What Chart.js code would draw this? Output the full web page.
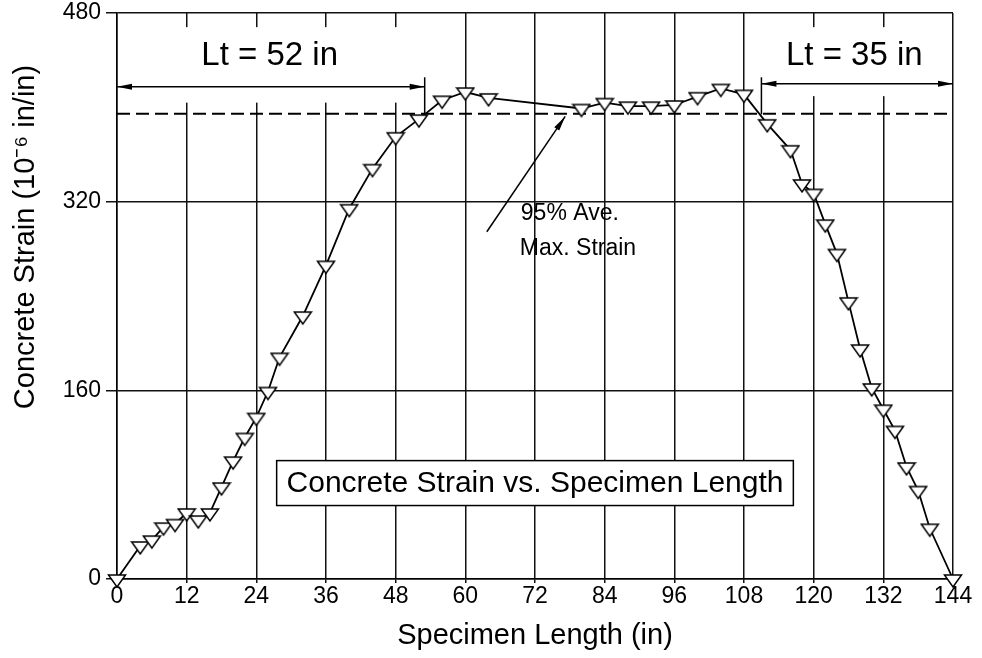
<!DOCTYPE html>
<html>
<head>
<meta charset="utf-8">
<script src="https://cdn.jsdelivr.net/npm/chart.js@4"></script>
<style>
  html, body { margin: 0; padding: 0; background: #fff; }
</style>
</head>
<body>
<canvas id="grafico1" width="982" height="658"></canvas>
<script>
// posicao ao longo do corpo de prova (in) e deformacao (10^-6 in/in)
var posicoes = [0, 4, 6, 8, 10, 12, 14, 16, 18, 20, 22, 24, 26, 28, 32, 36, 40, 44, 48, 52,
  56, 60, 64, 80, 84, 88, 92, 96, 100, 104, 108, 112, 116, 118, 120, 122, 124, 126, 128, 130,
  132, 134, 136, 138, 140, 144];
var deformacoes = [0, 28, 33, 44, 47, 56, 50, 56, 78, 100, 120, 137, 159, 188, 223, 266, 314, 348, 375, 390,
  406, 413, 408, 399, 404, 401, 401, 402, 409, 416, 411, 386, 364, 335, 327, 301, 276, 235, 195, 162,
  144, 126, 95, 75, 43, 0];
var ticksX = [0, 12, 24, 36, 48, 60, 72, 84, 96, 108, 120, 132, 144];
var ticksY = [0, 160, 320, 480];

// linha de 95% da deformacao maxima media
var limite95 = 394.5;
var ltEsquerda = { de: 0, ate: 53, nivel: 417.5, texto: "Lt = 52 in", textoX: 26.3, textoY: 444 };
var ltDireita = { de: 111, ate: 144, nivel: 420, texto: "Lt = 35 in", textoX: 127, textoY: 444 };

var fonte = "'Liberation Sans', Arial, Helvetica, sans-serif";
Chart.defaults.font.family = fonte;
Chart.defaults.color = "#000";

// triangulo invertido vazado
var marcador = document.createElement("canvas");
marcador.width = 20;
marcador.height = 20;
var mctx = marcador.getContext("2d");
mctx.beginPath();
mctx.moveTo(1.5, 6);
mctx.lineTo(18.5, 6);
mctx.lineTo(10, 18);
mctx.closePath();
mctx.fillStyle = "#fff";
mctx.fill();
mctx.lineWidth = 1.5;
mctx.strokeStyle = "#000";
mctx.stroke();

function seta(ctx, x1, y1, x2, y2) {
  var ang = Math.atan2(y2 - y1, x2 - x1);
  ctx.save();
  ctx.translate(x2, y2);
  ctx.rotate(ang);
  ctx.beginPath();
  ctx.moveTo(0, 0);
  ctx.lineTo(-15, -3);
  ctx.lineTo(-15, 3);
  ctx.closePath();
  ctx.fill();
  ctx.restore();
}

var anotacoes = {
  id: "anotacoes",
  beforeDatasetsDraw: function (chart) {
    var ctx = chart.ctx;
    var sx = chart.scales.x;
    var sy = chart.scales.y;
    var area = chart.chartArea;
    ctx.save();

    // fundo branco atras dos textos Lt
    ctx.fillStyle = "#fff";
    var topo = sy.getPixelForValue(468);
    ctx.fillRect(area.left + 1.5, topo, sx.getPixelForValue(53) - area.left, sy.getPixelForValue(404) - topo);
    var xd = sx.getPixelForValue(111);
    ctx.fillRect(xd, topo, area.right - 1.5 - xd, sy.getPixelForValue(409.5) - topo);

    // linha tracejada 95%
    ctx.strokeStyle = "#000";
    ctx.lineWidth = 2;
    ctx.setLineDash([13, 6]);
    ctx.beginPath();
    ctx.moveTo(area.left, sy.getPixelForValue(limite95));
    ctx.lineTo(area.right, sy.getPixelForValue(limite95));
    ctx.stroke();
    ctx.setLineDash([]);

    // setas Lt
    ctx.fillStyle = "#000";
    [ltEsquerda, ltDireita].forEach(function (lt) {
      var xa = sx.getPixelForValue(lt.de);
      var xb = sx.getPixelForValue(lt.ate);
      var yy = sy.getPixelForValue(lt.nivel);
      ctx.lineWidth = 1.5;
      ctx.beginPath();
      ctx.moveTo(xa, yy);
      ctx.lineTo(xb, yy);
      ctx.stroke();
      seta(ctx, xb, yy, xa, yy);
      seta(ctx, xa, yy, xb, yy);
      var xv = lt.de > 72 ? xa : xb;
      ctx.beginPath();
      ctx.moveTo(xv, sy.getPixelForValue(425.5));
      ctx.lineTo(xv, sy.getPixelForValue(394));
      ctx.stroke();
      ctx.font = "33px " + fonte;
      ctx.textAlign = "center";
      ctx.textBaseline = "middle";
      ctx.fillText(lt.texto, sx.getPixelForValue(lt.textoX), sy.getPixelForValue(lt.textoY));
    });

    // chamada 95% Ave. Max. Strain
    var x1 = sx.getPixelForValue(63.7), y1 = sy.getPixelForValue(294.5);
    var x2 = sx.getPixelForValue(77.2), y2 = sy.getPixelForValue(392.3);
    ctx.lineWidth = 1.5;
    ctx.beginPath();
    ctx.moveTo(x1, y1);
    ctx.lineTo(x2, y2);
    ctx.stroke();
    seta(ctx, x1, y1, x2, y2);
    ctx.font = "23px " + fonte;
    ctx.fillText("95% Ave.", sx.getPixelForValue(78), sy.getPixelForValue(310));
    ctx.fillText("Max. Strain", sx.getPixelForValue(79.4), sy.getPixelForValue(280));

    // caixa do titulo
    var bx1 = sx.getPixelForValue(27.5), by1 = sy.getPixelForValue(100.4);
    var bx2 = sx.getPixelForValue(116.5), by2 = sy.getPixelForValue(62.3);
    ctx.fillStyle = "#fff";
    ctx.fillRect(bx1, by1, bx2 - bx1, by2 - by1);
    ctx.lineWidth = 1.5;
    ctx.strokeRect(bx1, by1, bx2 - bx1, by2 - by1);
    ctx.fillStyle = "#000";
    ctx.font = "30px " + fonte;
    ctx.fillText("Concrete Strain vs. Specimen Length", (bx1 + bx2) / 2, (by1 + by2) / 2 + 1);

    ctx.restore();
  },
  afterDraw: function (chart) {
    // titulo do eixo y
    var ctx = chart.ctx;
    ctx.save();
    ctx.translate(26, 237);
    ctx.rotate(-Math.PI / 2);
    ctx.font = "29px " + fonte;
    ctx.fillStyle = "#000";
    ctx.textAlign = "center";
    ctx.textBaseline = "middle";
    ctx.fillText("Concrete Strain (10\u207B\u2076 in/in)", 0, 0);
    ctx.restore();
  },
};

var pontos = [];
for (var i = 0; i < posicoes.length; i++) {
  pontos.push({ x: posicoes[i], y: deformacoes[i] });
}

var dados = {
  datasets: [
    {
      label: "Concrete Strain",
      data: pontos,
      borderColor: "#000",
      borderWidth: 1.8,
      backgroundColor: "#fff",
      pointStyle: marcador,
      tension: 0,
      clip: false,
    },
  ],
};

const config = {
  type: "line",
  data: dados,
  options: {
    responsive: false,
    animation: false,
    layout: { padding: { top: 13, right: 29, left: 0, bottom: 0 } },
    plugins: {
      legend: { display: false },
      tooltip: { enabled: false },
    },
    scales: {
      x: {
        type: "linear",
        min: 0,
        max: 144,
        afterBuildTicks: function (escala) {
          escala.ticks = ticksX.map(function (v) { return { value: v }; });
        },
        afterFit: function (escala) {
          escala.height = 79;
          escala.paddingLeft = 0;
          escala.paddingRight = 0;
        },
        ticks: { font: { size: 23 }, color: "#000", padding: 0, maxRotation: 0 },
        grid: { color: "#111", lineWidth: 1.5, tickLength: 4 },
        border: { color: "#000", width: 1.5 },
        title: {
          display: true,
          text: "Specimen Length (in)",
          font: { size: 29 },
          color: "#000",
          padding: { top: 0, bottom: 5 },
        },
      },
      y: {
        min: 0,
        max: 480,
        afterBuildTicks: function (escala) {
          escala.ticks = ticksY.map(function (v) { return { value: v }; });
        },
        afterFit: function (escala) {
          escala.width = 117;
          escala.paddingTop = 0;
          escala.paddingBottom = 0;
        },
        ticks: { font: { size: 23 }, color: "#000", padding: 5 },
        grid: { color: "#111", lineWidth: 1.5, tickLength: 11 },
        border: { color: "#000", width: 1.5 },
        title: { display: false },
      },
    },
  },
  plugins: [anotacoes],
};

let meuGrafico = new Chart(document.getElementById("grafico1"), config);
</script>
</body>
</html>
